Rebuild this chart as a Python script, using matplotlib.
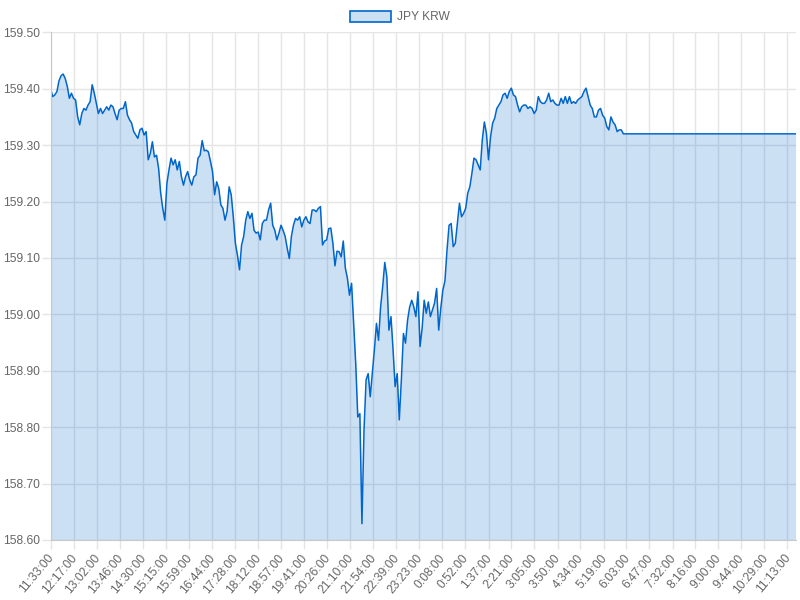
import numpy as np
import matplotlib
matplotlib.use("Agg")
from matplotlib import pyplot as plt
from matplotlib.patches import Patch

plt.rcParams['font.family'] = ['Liberation Sans', 'DejaVu Sans']

# JPY KRW 汇率，每 4 分钟一个点，从 11:33 开始
step_min = 4
rate = [
    159.399, 159.386, 159.389, 159.395, 159.414, 159.423, 159.426, 159.418, 159.404, 159.383,
    159.392, 159.383, 159.380, 159.350, 159.336, 159.356, 159.365, 159.362, 159.371, 159.377,
    159.407, 159.392, 159.374, 159.356, 159.365, 159.356, 159.362, 159.368, 159.362, 159.371,
    159.368, 159.356, 159.345, 159.362, 159.365, 159.365, 159.377, 159.353, 159.345, 159.339,
    159.324, 159.318, 159.312, 159.327, 159.330, 159.318, 159.324, 159.274, 159.285, 159.306,
    159.279, 159.282, 159.259, 159.215, 159.188, 159.167, 159.232, 159.256, 159.277, 159.265,
    159.274, 159.256, 159.271, 159.244, 159.229, 159.244, 159.253, 159.238, 159.229, 159.244,
    159.247, 159.277, 159.282, 159.308, 159.290, 159.291, 159.288, 159.271, 159.253, 159.212,
    159.235, 159.223, 159.194, 159.188, 159.167, 159.182, 159.226, 159.212, 159.173, 159.126,
    159.105, 159.079, 159.123, 159.138, 159.167, 159.182, 159.170, 159.179, 159.149, 159.144,
    159.146, 159.132, 159.161, 159.167, 159.167, 159.185, 159.197, 159.158, 159.149, 159.132,
    159.144, 159.158, 159.149, 159.138, 159.117, 159.099, 159.138, 159.158, 159.170, 159.167,
    159.173, 159.155, 159.167, 159.173, 159.164, 159.161, 159.185, 159.185, 159.182, 159.188,
    159.191, 159.123, 159.130, 159.132, 159.152, 159.153, 159.126, 159.086, 159.112, 159.111,
    159.102, 159.130, 159.082, 159.064, 159.034, 159.055, 158.984, 158.913, 158.818, 158.824,
    158.629, 158.795, 158.884, 158.895, 158.854, 158.895, 158.937, 158.984, 158.954, 159.013,
    159.049, 159.092, 159.067, 158.972, 158.996, 158.937, 158.872, 158.895, 158.813, 158.884,
    158.966, 158.949, 158.990, 159.013, 159.025, 159.013, 158.996, 159.040, 158.943, 158.975,
    159.025, 159.002, 159.022, 158.996, 159.008, 159.020, 159.046, 158.972, 159.011, 159.043,
    159.059, 159.114, 159.158, 159.161, 159.120, 159.126, 159.161, 159.197, 159.173, 159.179,
    159.188, 159.215, 159.226, 159.250, 159.277, 159.274, 159.265, 159.256, 159.309, 159.341,
    159.321, 159.274, 159.315, 159.339, 159.348, 159.365, 159.371, 159.377, 159.389, 159.392,
    159.383, 159.395, 159.401, 159.389, 159.386, 159.371, 159.359, 159.368, 159.371, 159.371,
    159.365, 159.368, 159.365, 159.356, 159.362, 159.386, 159.377, 159.374, 159.374, 159.380,
    159.392, 159.377, 159.380, 159.374, 159.371, 159.371, 159.383, 159.374, 159.386, 159.374,
    159.386, 159.374, 159.377, 159.374, 159.380, 159.383, 159.386, 159.395, 159.401, 159.386,
    159.371, 159.365, 159.350, 159.350, 159.362, 159.365, 159.353, 159.348, 159.333, 159.327,
    159.350, 159.341, 159.336, 159.324, 159.327, 159.327,
]
# 6:00 之后报价不再变化
flat_rate = 159.32
flat_count = 84
rate = rate + [flat_rate] * flat_count

tick_labels = ['11:33:00', '12:17:00', '13:02:00', '13:46:00', '14:30:00', '15:15:00',
               '15:59:00', '16:44:00', '17:28:00', '18:12:00', '18:57:00', '19:41:00',
               '20:26:00', '21:10:00', '21:54:00', '22:39:00', '23:23:00', '0:08:00',
               '0:52:00', '1:37:00', '2:21:00', '3:05:00', '3:50:00', '4:34:00',
               '5:19:00', '6:03:00', '6:47:00', '7:32:00', '8:16:00', '9:00:00',
               '9:44:00', '10:29:00', '11:13:00']
y_ticks = [158.6, 158.7, 158.8, 158.9, 159.0, 159.1, 159.2, 159.3, 159.4, 159.5]


def to_minutes(label, start='11:33:00'):
    h, m, s = [int(v) for v in label.split(':')]
    h0, m0, s0 = [int(v) for v in start.split(':')]
    return ((h * 60 + m) - (h0 * 60 + m0)) % 1440


t = np.arange(len(rate)) * step_min
tick_pos = [to_minutes(l) for l in tick_labels]

line_color = '#0066cc'
fill_color = (0 / 255, 102 / 255, 204 / 255, 0.2)
grid_color = '#e5e5e5'
text_color = '#666666'
px = 72 / 100  # 1 像素对应的磅数

fig = plt.figure(figsize=(8, 6), dpi=100)
ax = fig.add_axes([50.7 / 800, 1 - 540 / 600, (795.6 - 50.7) / 800, (540 - 32.3) / 600])

ax.set_axisbelow(True)
ax.grid(True, color=grid_color, linewidth=1)
ax.fill_between(t, rate, 158.6, color=fill_color, linewidth=0)
ax.plot(t, rate, color=line_color, linewidth=1.1)

ax.set_xlim(t[0], t[-1])
ax.set_ylim(158.6, 159.5)
ax.set_xticks(tick_pos)
ax.set_xticklabels(tick_labels, rotation=50, ha='right', va='center_baseline',
                   rotation_mode='anchor')
ax.set_yticks(y_ticks)
ax.set_yticklabels(['%.2f' % v for v in y_ticks])
ax.tick_params(axis='both', length=9 * px, width=1, color=grid_color, labelsize=12 * px,
               labelcolor=text_color)
ax.tick_params(axis='y', pad=2 * px)
ax.tick_params(axis='x', pad=6 * px)

for side in ['top', 'right']:
    ax.spines[side].set_visible(False)
ax.spines['left'].set_color('#c8c8c8')
ax.spines['bottom'].set_color('#c8c8c8')

handle = Patch(facecolor=fill_color, edgecolor=line_color, linewidth=1.2)
fig.legend([handle], ['JPY KRW'], loc='upper center', bbox_to_anchor=(0.5, 1.0),
           frameon=False, fontsize=12 * px, labelcolor=text_color,
           handlelength=3.4, handleheight=1.0, handletextpad=0.5, borderaxespad=0.5)

plt.savefig('out.png', dpi=100)
